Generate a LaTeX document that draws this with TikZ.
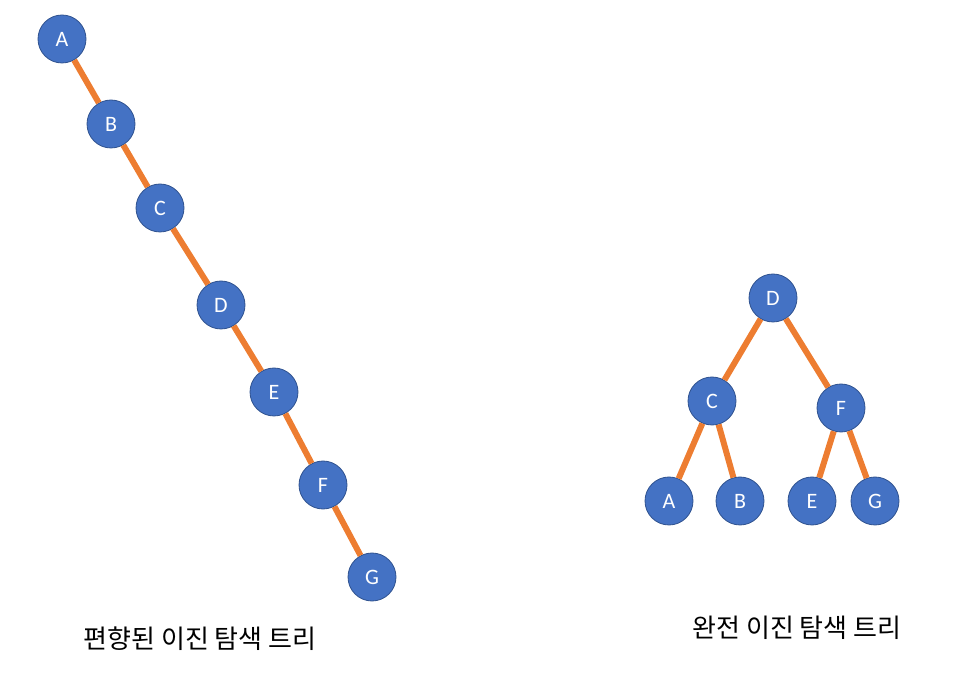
\documentclass[tikz,border=0pt]{standalone}
\usepackage{fontspec}
\setmainfont{Carlito}
\newfontfamily\kr{Noto Sans CJK KR}
\definecolor{nodeblue}{HTML}{4472C4}
\definecolor{nodeedge}{HTML}{2F528F}
\definecolor{edgeorange}{HTML}{ED7D31}
\tikzset{
  tnode/.style={circle, fill=nodeblue, draw=nodeedge, line width=0.8pt, minimum size=48pt, inner sep=0pt, text=white, font=\fontsize{22}{22}\selectfont},
  tedge/.style={draw=edgeorange, line width=6pt},
  caption/.style={font=\kr\fontsize{26}{26}\selectfont, text=black, inner sep=0pt}
}
\begin{document}
\begin{tikzpicture}[x=1pt,y=-1pt]
\useasboundingbox (0,0) rectangle (970,684);
% left skewed tree
\node[tnode] (la) at (62,39) {A};
\node[tnode] (lb) at (111,124) {B};
\node[tnode] (lc) at (160,208) {C};
\node[tnode] (ld) at (221,305) {D};
\node[tnode] (le) at (274,392) {E};
\node[tnode] (lf) at (323,485) {F};
\node[tnode] (lg) at (372,577) {G};
\draw[tedge] (la) -- (lb);
\draw[tedge] (lb) -- (lc);
\draw[tedge] (lc) -- (ld);
\draw[tedge] (ld) -- (le);
\draw[tedge] (le) -- (lf);
\draw[tedge] (lf) -- (lg);
% right complete tree
\node[tnode] (rd) at (773,298) {D};
\node[tnode] (rc) at (712,401) {C};
\node[tnode] (rf) at (841,408) {F};
\node[tnode] (ra) at (669,501) {A};
\node[tnode] (rb) at (740,501) {B};
\node[tnode] (re) at (812,501) {E};
\node[tnode] (rg) at (875,501) {G};
\draw[tedge] (rd) -- (rc);
\draw[tedge] (rd) -- (rf);
\draw[tedge] (rc) -- (ra);
\draw[tedge] (rc) -- (rb);
\draw[tedge] (rf) -- (re);
\draw[tedge] (rf) -- (rg);
% captions
\node[caption] (capl) at (200,639) {편향된 이진 탐색 트리};
\node[caption] (capr) at (797,628) {완전 이진 탐색 트리};
\end{tikzpicture}
\end{document}
